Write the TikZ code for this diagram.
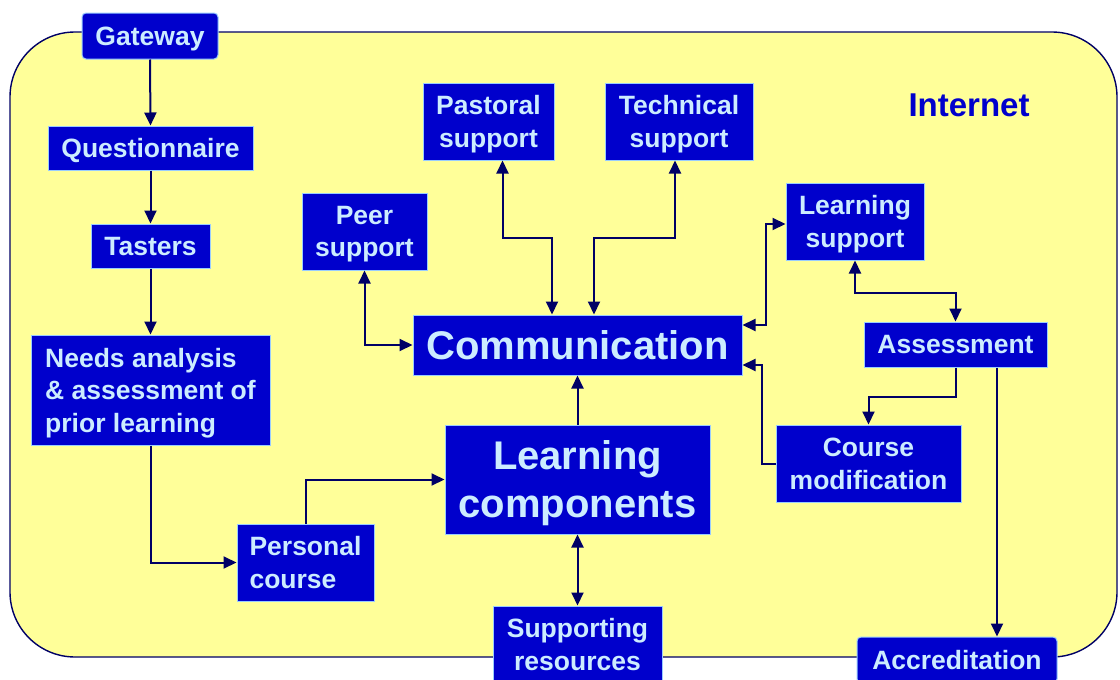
\documentclass[tikz,border=0pt]{standalone}
\usepackage{fontspec}
\setmainfont{Liberation Sans}
\usepackage{xcolor}
\usetikzlibrary{arrows.meta,positioning}
\definecolor{azul}{HTML}{0000CC}
\definecolor{celeste}{HTML}{CCECFF}
\definecolor{borde}{HTML}{99CCFF}
\definecolor{amarillo}{HTML}{FFFF99}
\definecolor{marino}{HTML}{000066}

\begin{document}
\begin{tikzpicture}[x=1pt,y=-1pt,
  caja/.style={fill=azul,draw=borde,line width=1pt,text=celeste,inner sep=0pt,align=center,text depth=0pt,
    font=\fontsize{26.5}{32.5}\selectfont\bfseries},
  grande/.style={caja,font=\fontsize{40}{48}\selectfont\bfseries},
  flecha/.style={draw=marino,line width=2pt,-{Triangle[length=13pt,width=12pt]}},
  doble/.style={flecha,{Triangle[length=13pt,width=12pt]}-{Triangle[length=13pt,width=12pt]}}]
\useasboundingbox (0,0) rectangle (1120,680);
% zona internet
\draw[fill=amarillo,draw=marino,line width=1.4pt,rounded corners=65pt] (10,32) rectangle (1117,657);
\node[text=azul,text depth=0pt,font=\fontsize{33}{38}\selectfont\bfseries] (internet) at (969,105) {Internet};
% columna de ingreso
\node[caja,rounded corners=4pt,minimum width=136pt,minimum height=46pt] (gateway) at (150,36) {Gateway};
\node[caja,minimum width=205pt,minimum height=44pt] (quest) at (150.5,148) {Questionnaire};
\node[caja,minimum width=119pt,minimum height=44pt] (tasters) at (150.5,246) {Tasters};
\node[caja,align=left,minimum width=239pt,minimum height=110pt] (needs) at (150.5,390) {Needs analysis\\ \& assessment of\\ prior learning};
\node[caja,align=left,minimum width=137pt,minimum height=77pt] (personal) at (305.5,562.5) {Personal\\ course};
% apoyos
\node[caja,minimum width=125pt,minimum height=77pt] (peer) at (364.5,231.5) {Peer\\ support};
\node[caja,minimum width=131pt,minimum height=77pt] (pastoral) at (488.5,121.5) {Pastoral\\ support};
\node[caja,minimum width=148pt,minimum height=77pt] (technical) at (679,121.5) {Technical\\ support};
\node[caja,minimum width=138pt,minimum height=77pt] (lsupport) at (855,221.5) {Learning\\ support};
% centro
\node[grande,minimum width=329pt,minimum height=60pt] (comm) at (577.5,345) {Communication};
\node[grande,minimum width=265pt,minimum height=109pt] (lcomp) at (577.5,479.5) {Learning\\ components};
\node[caja,minimum width=169pt,minimum height=77pt] (supres) at (577.5,644.5) {Supporting\\ resources};
% evaluacion
\node[caja,minimum width=183pt,minimum height=45pt] (assess) at (955.5,344.5) {Assessment};
\node[caja,minimum width=185pt,minimum height=77pt] (coursemod) at (868.5,463.5) {Course\\ modification};
\node[caja,rounded corners=4pt,minimum width=200pt,minimum height=46pt] (accred) at (957,660) {Accreditation};

\draw[flecha] (gateway.south) -- (quest.north);
\draw[flecha] (quest.south) -- (tasters.north);
\draw[flecha] (tasters.south) -- (needs.north);
\draw[flecha] (needs.south) |- (personal.west);
\draw[flecha] (personal.north) |- (lcomp.west);
\draw[flecha] (lcomp.north) -- (comm.south);
\draw[doble] (lcomp.south) -- (supres.north);
\draw[doble] (peer.south) |- (comm.west);
\draw[doble] ([xshift=14pt]pastoral.south) -- ++(0,77) -| ([xshift=-25.5pt]comm.north);
\draw[doble] ([xshift=-4pt]technical.south) -- ++(0,77) -| ([xshift=16.5pt]comm.north);
\draw[doble] ([yshift=20pt]comm.east) -- ++(23,0) |- ([yshift=-2.5pt]lsupport.west);
\draw[doble] (lsupport.south) -- ++(0,32) -| (assess.north);
\draw[flecha] (assess.south) -- ++(0,29) -| (coursemod.north);
\draw[flecha] (coursemod.west) -- ++(-14,0) |- ([yshift=-20pt]comm.east);
\draw[flecha] ([xshift=41.5pt]assess.south) -- ([xshift=40pt]accred.north);
\end{tikzpicture}
\end{document}
